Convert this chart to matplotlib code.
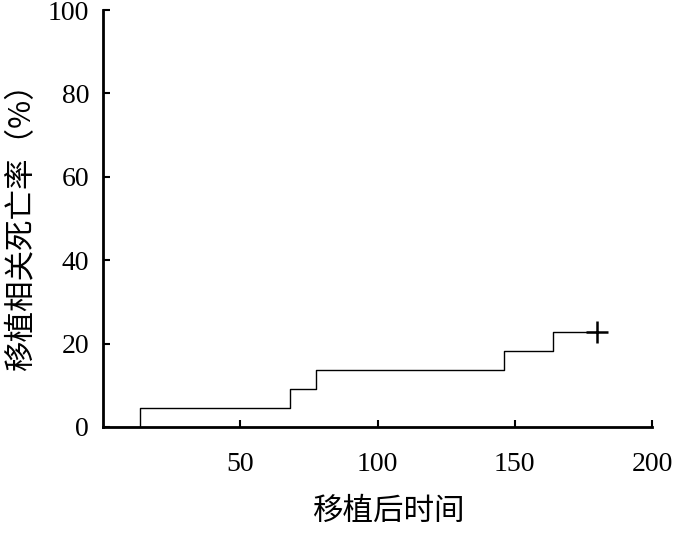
import matplotlib.pyplot as plt
import numpy as np

# 事件时间点（天）与累计移植相关死亡率（%）
event_times = [0, 13.5, 68, 77.5, 146, 164]
mortality = [0, 4.5, 9.1, 13.6, 18.2, 22.7]
censor_time = [180]
censor_value = [22.7]

xticks = [50, 100, 150, 200]
yticks = [0, 20, 40, 60, 80, 100]

plt.rcParams['font.family'] = ['Liberation Serif', 'Noto Sans CJK SC']

fig = plt.figure(figsize=(6.73, 5.33), dpi=100)
ax = fig.add_axes([0.153, 0.199, 0.816, 0.782])

x = event_times + censor_time
y = mortality + [mortality[-1]]
ax.step(x, y, where='post', color='black', linewidth=1.0)
ax.plot(censor_time, censor_value, marker='+', color='black',
        markersize=16, markeredgewidth=1.8, linestyle='none')

ax.set_xlim(0, 200)
ax.set_ylim(0, 100)
ax.set_xticks(xticks)
ax.set_yticks(yticks)
ax.tick_params(direction='in', length=5, width=1.5, labelsize=20, pad=10)
ax.tick_params(axis='x', pad=18)

ax.spines['top'].set_visible(False)
ax.spines['right'].set_visible(False)
ax.spines['left'].set_linewidth(2)
ax.spines['bottom'].set_linewidth(2)

ax.set_xlabel('移植后时间', fontsize=22, family=['Noto Sans CJK SC'])
ax.xaxis.set_label_coords(0.522, -0.165)
ax.set_ylabel('移植相关死亡率（%）', fontsize=22, family=['Noto Sans CJK SC', 'Liberation Serif'])
ax.yaxis.set_label_coords(-0.12, 0.5)

fig.savefig('out.png', dpi=100)
